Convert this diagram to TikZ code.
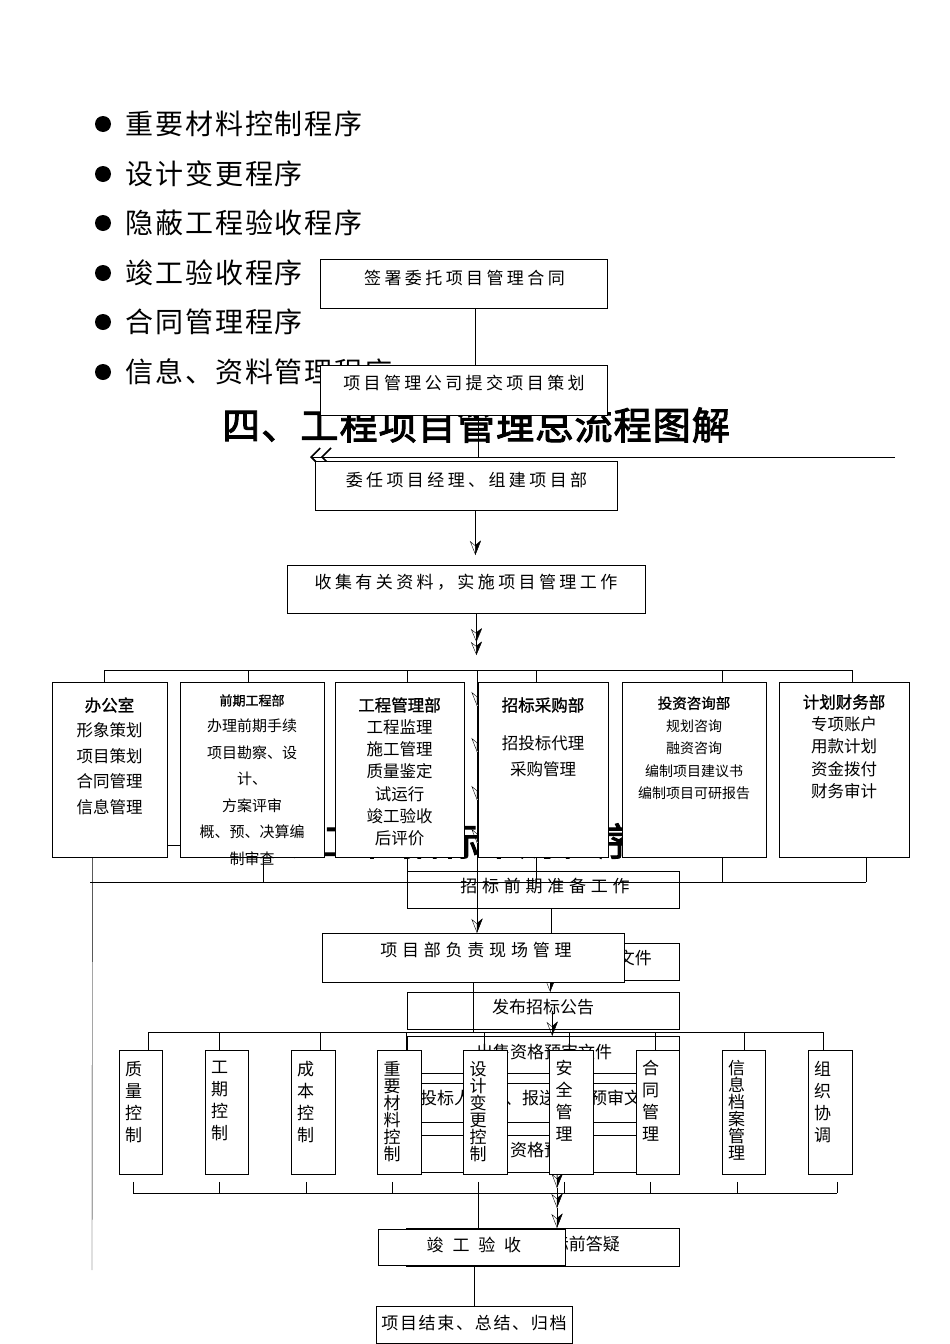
\documentclass[tikz,border=0pt]{standalone}
\usepackage{fontspec}
\usetikzlibrary{arrows.meta,positioning}
\newfontfamily\cjk{Noto Sans CJK SC}
\newfontfamily\cjkwide[LetterSpace=20]{Noto Sans CJK SC}
\newfontfamily\cjknarrow[LetterSpace=10]{Noto Sans CJK SC}
\newfontfamily\cjkspaced[LetterSpace=28]{Noto Sans CJK SC}
\newfontfamily\cjkwider[LetterSpace=52]{Noto Sans CJK SC}
\newfontfamily\cjklist[LetterSpace=7]{Noto Sans CJK SC}
\newfontfamily\cjkhead[FakeBold=1.2]{Noto Sans CJK SC}
\newfontfamily\cjktitle[FakeBold=2.5,LetterSpace=3]{Noto Sans CJK SC}
\pgfdeclarelayer{back}
\pgfdeclarelayer{mid}
\pgfsetlayers{back,mid,main}

\begin{document}
\begin{tikzpicture}[x=1pt, y=-1pt, line width=0.8pt,
  box/.style={draw, fill=white, anchor=north west, inner sep=0pt},
  txt/.style={inner sep=0pt, font={\cjk\fontsize{17}{20}\selectfont}},
  widetxt/.style={inner sep=0pt, font={\cjkwide\fontsize{17}{20}\selectfont}},
  dept/.style={anchor=north, align=center, inner sep=0pt},
  vtxt/.style={anchor=north, align=center, inner sep=0pt, font={\cjk\fontsize{17}{22}\selectfont}},
  bulletdot/.style={circle, fill=black, inner sep=0pt, minimum size=16pt},
  listitem/.style={anchor=west, inner sep=0pt, font={\cjklist\fontsize{28}{30}\selectfont}},
  bigtitle/.style={anchor=west, inner sep=0pt, font={\cjktitle\fontsize{38}{40}\selectfont}},
  flowtip/.style={-{Stealth[open,length=14pt,width=11pt]}, postaction={draw,-{Stealth[left,length=14pt,width=11pt]}}},
  flowtips/.style={-{Stealth[open,length=13pt,width=11pt]Stealth[open,length=13pt,width=11pt]}, postaction={draw,-{Stealth[left,length=13pt,width=11pt]Stealth[left,length=13pt,width=11pt]}}},
  backarrow/.style={-{Straight Barb[length=9pt,width=18pt,line width=1.6pt]Straight Barb[length=9pt,width=18pt,line width=1.6pt]}}]
\useasboundingbox (0,0) rectangle (950,1344);

\node[box, minimum width=287pt, minimum height=49pt] (sign) at (320,259) {};
\node[widetxt] (signt) at (464.5,278) {签署委托项目管理合同};
\node[box, minimum width=287pt, minimum height=50pt] (plan) at (320,365) {};
\node[widetxt] (plant) at (464,383) {项目管理公司提交项目策划};
\node[box, minimum width=302pt, minimum height=49pt] (appoint) at (315,461) {};
\node[widetxt] (appointt) at (466.5,480) {委任项目经理、组建项目部};
\node[box, minimum width=358pt, minimum height=48pt] (collect) at (287,565) {};
\node[widetxt] (collectt) at (466,582) {收集有关资料，实施项目管理工作};

\node[box, minimum width=115pt, minimum height=175pt] (off) at (52,682) {};
\node[box, minimum width=144pt, minimum height=175pt] (pre) at (180,682) {};
\node[box, minimum width=129pt, minimum height=175pt] (eng) at (335,682) {};
\node[box, minimum width=130pt, minimum height=175pt] (bid) at (478,682) {};
\node[box, minimum width=144pt, minimum height=175pt] (inv) at (622,682) {};
\node[box, minimum width=130pt, minimum height=175pt] (fin) at (779,682) {};
\node[dept, font={\cjk\fontsize{16.5}{25.5}\selectfont}] (offt) at (109.5,697) {{\cjkhead 办公室}\\形象策划\\项目策划\\合同管理\\信息管理};
\node[dept, font={\cjk\fontsize{15}{26.5}\selectfont}] (pret) at (252,694) {{\cjkhead\fontsize{13}{26.5}\selectfont 前期工程部}\\办理前期手续\\项目勘察、设\\计、\\方案评审\\概、预、决算编\\制审查};
\node[dept, font={\cjk\fontsize{16.5}{22.2}\selectfont}] (engt) at (399.5,697) {{\cjkhead 工程管理部}\\工程监理\\施工管理\\质量鉴定\\试运行\\竣工验收\\后评价};
\node[dept, font={\cjk\fontsize{16.5}{26}\selectfont}] (bidt) at (543,697) {{\cjkhead 招标采购部}\\[12pt]招投标代理\\采购管理};
\node[dept, font={\cjk\fontsize{14}{22.5}\selectfont}] (invt) at (694,696) {{\cjkhead\fontsize{14.5}{22.5}\selectfont 投资咨询部}\\规划咨询\\融资咨询\\编制项目建议书\\编制项目可研报告};
\node[dept, font={\cjk\fontsize{16.5}{22.3}\selectfont}] (fint) at (844,694) {{\cjkhead 计划财务部}\\专项账户\\用款计划\\资金拨付\\财务审计};

\node[box, minimum width=302pt, minimum height=49pt] (proj) at (322,933) {};
\node[inner sep=0pt, font={\cjkspaced\fontsize{17}{20}\selectfont}] (projt) at (476,950) {项目部负责现场管理};

\node[box, minimum width=43pt, minimum height=124pt] (quality) at (119,1050) {};
\node[box, minimum width=43pt, minimum height=124pt] (period) at (205,1050) {};
\node[box, minimum width=44pt, minimum height=124pt] (cost) at (291,1050) {};
\node[box, minimum width=44pt, minimum height=124pt] (material) at (377,1050) {};
\node[box, minimum width=44pt, minimum height=124pt] (design) at (463,1050) {};
\node[box, minimum width=44pt, minimum height=124pt] (safety) at (549,1050) {};
\node[box, minimum width=43pt, minimum height=124pt] (contract) at (636,1050) {};
\node[box, minimum width=43pt, minimum height=124pt] (archive) at (722,1050) {};
\node[box, minimum width=44pt, minimum height=124pt] (coord) at (808,1050) {};
\node[vtxt] (qualityt) at (133.5,1061) {质\\量\\控\\制};
\node[vtxt] (periodt) at (219.5,1061) {工\\期\\控\\制};
\node[vtxt] (costt) at (305.5,1061) {成\\本\\控\\制};
\node[vtxt, font={\cjk\fontsize{17}{17}\selectfont}] (materialt) at (392,1061) {重\\要\\材\\料\\控\\制};
\node[vtxt, font={\cjk\fontsize{17}{17}\selectfont}] (designt) at (478,1061) {设\\计\\变\\更\\控\\制};
\node[vtxt] (safetyt) at (564,1060) {安\\全\\管\\理};
\node[vtxt] (contractt) at (650.5,1060) {合\\同\\管\\理};
\node[vtxt, font={\cjk\fontsize{17}{17}\selectfont}] (archivet) at (736.5,1060) {信\\息\\档\\案\\管\\理};
\node[vtxt] (coordt) at (822.5,1061) {组\\织\\协\\调};

\node[box, minimum width=187pt, minimum height=36pt] (acc) at (378,1229) {};
\node[inner sep=0pt, font={\cjkwider\fontsize{17}{20}\selectfont}] (acct) at (474,1245) {竣工验收};
\node[box, minimum width=196pt, minimum height=37pt] (finish) at (376,1306) {};
\node[inner sep=0pt, font={\cjknarrow\fontsize{17}{20}\selectfont}] (finisht) at (474,1323) {项目结束、总结、归档};

\begin{pgfonlayer}{back}
\node[bulletdot] (dot1) at (103,124) {};
\node[listitem] (item1) at (125,124) {重要材料控制程序};
\node[bulletdot] (dot2) at (103,174) {};
\node[listitem] (item2) at (125,174) {设计变更程序};
\node[bulletdot] (dot3) at (103,223) {};
\node[listitem] (item3) at (125,223) {隐蔽工程验收程序};
\node[bulletdot] (dot4) at (103,273) {};
\node[listitem] (item4) at (125,273) {竣工验收程序};
\node[bulletdot] (dot5) at (103,322) {};
\node[listitem] (item5) at (125,322) {合同管理程序};
\node[bulletdot] (dot6) at (103,372) {};
\node[listitem] (item6) at (125,372) {信息、资料管理程序};

\node[bigtitle] (title) at (222,425) {四、工程项目管理总流程图解};
\node[bigtitle] (titlebid) at (245,841) {五、工程招标采购程序};

\node[box, minimum width=272pt, minimum height=37pt] (tb) at (407,871) {};
\node[inner sep=0pt, font={\cjkspaced\fontsize{17}{20}\selectfont}] (tbt) at (545,886) {招标前期准备工作};
\node[box, minimum width=272pt, minimum height=37pt] (fileb) at (407,943) {};
\node[txt, anchor=east] (filebt) at (652,958) {编制资格预审文件};
\node[box, minimum width=272pt, minimum height=37pt] (pub) at (407,992) {};
\node[txt] (pubt) at (543,1007) {发布招标公告};
\node[box, minimum width=272pt, minimum height=37pt] (sell) at (407,1036) {};
\node[txt] (sellt) at (544,1052) {出售资格预审文件};
\node[box, minimum width=272pt, minimum height=39pt] (apply) at (407,1083) {};
\node[txt, anchor=west] (applyt) at (420,1098) {投标人报名、报送资格预审文件};
\node[box, minimum width=272pt, minimum height=37pt] (qual) at (407,1135) {};
\node[txt, anchor=west] (qualt) at (510,1150) {资格预审};
\node[box, minimum width=273pt, minimum height=38pt] (ans) at (406,1228) {};
\node[txt, anchor=east] (anst) at (620,1244) {标前答疑};
\end{pgfonlayer}

\begin{pgfonlayer}{mid}
\draw ([xshift=11.5pt]sign.south) -- ([xshift=11.5pt]plan.north);
\coordinate (backfar) at (895,457);
\coordinate (backtip) at (310,457);
\draw[backarrow] (backfar) -- (backtip);
\draw ([xshift=14.5pt]plan.south) -- ([xshift=14.5pt]plan.south |- backfar);
\draw[flowtip, shorten >=10pt] ([xshift=9pt]appoint.south) -- ([xshift=9pt]collect.north);
\draw[flowtips] ([xshift=10pt]collect.south) -- ([xshift=10pt,yshift=27pt]collect.south |- off.north);

\draw ([xshift=-5.5pt,yshift=12pt]off.north) -- ([xshift=8pt,yshift=12pt]fin.north);
\draw ([xshift=-5.5pt]off.north) -- ++(0,-12);
\draw ([xshift=-4pt]pre.north) -- ++(0,-12);
\draw ([xshift=7.5pt]eng.north) -- ++(0,-12);
\draw ([xshift=-7pt]bid.north) -- ++(0,-12);
\draw ([xshift=28pt]inv.north) -- ++(0,-12);
\draw ([xshift=8pt]fin.north) -- ++(0,-12);

\coordinate (leftfoot) at (92,1270);
\draw ([xshift=-17.5pt]off.south) -- (leftfoot);
\draw ([xshift=-19.5pt,yshift=-24pt]off.south) -- ([xshift=22pt,yshift=-24pt]fin.south);
\draw ([xshift=11pt]pre.south) -- ++(0,24);
\draw ([xshift=7.5pt]eng.south) -- ++(0,24);
\draw ([xshift=-7pt]bid.south) -- ++(0,24);
\draw ([xshift=28pt]inv.south) -- ++(0,24);
\draw ([xshift=22pt]fin.south) -- ++(0,24);
\draw (off.east |- 0,845) -- (pre.west |- 0,845);

\coordinate (k0) at (477,670);
\coordinate (k1) at (477,706);
\coordinate (k2) at (477,752);
\coordinate (k3) at (477,800);
\coordinate (k4) at (477,843);
\draw[flowtip] (k0) -- (k1);
\draw[flowtip] (k1) -- (k2);
\draw[flowtip] (k2) -- (k3);
\draw[flowtip] (k3) -- (k4);
\draw[flowtip] (k4) -- (k4 |- proj.north);

\draw ([xshift=8pt]tb.south) -- ([xshift=8pt]fileb.north);
\draw[flowtip] ([xshift=7pt]fileb.south) -- ([xshift=7pt]pub.north);
\draw (proj.south) -- ([yshift=18pt]proj.south |- quality.north);
\draw[flowtip] ([xshift=9pt]pub.center) -- ([xshift=9pt]sell.north);
\draw[flowtip] ([xshift=14pt]sell.south) -- ([xshift=14pt]apply.north);
\draw[flowtip] ([xshift=14pt]apply.south) -- ([xshift=14pt]qual.north);
\coordinate (r1) at (557,1188);
\coordinate (r2) at (557,1208);
\draw[flowtip] ([xshift=14pt]qual.south) -- (r1);
\draw[flowtip] (r1) -- (r2);
\draw[flowtip] (r2) -- (r2 |- ans.north);

\draw ([xshift=7.5pt,yshift=18pt]quality.north) -- ([xshift=-7pt,yshift=18pt]coord.north);
\draw ([xshift=7.5pt]quality.north) -- ++(0,-18);
\draw ([xshift=-7.5pt]period.north) -- ++(0,-18);
\draw ([xshift=7pt]cost.north) -- ++(0,-18);
\draw ([xshift=7pt]material.north) -- ++(0,-18);
\draw ([xshift=-1pt]design.north) -- ++(0,-18);
\draw ([xshift=-2pt]safety.north) -- ++(0,-18);
\draw ([xshift=-2.5pt]contract.north) -- ++(0,-18);
\draw ([xshift=0.5pt]archive.north) -- ++(0,-18);
\draw ([xshift=-7pt]coord.north) -- ++(0,-18);

\draw ([xshift=-7.5pt,yshift=-18pt]quality.south) -- ([xshift=7pt,yshift=-18pt]coord.south);
\draw ([xshift=-7.5pt,yshift=-7pt]quality.south) -- ++(0,11);
\draw ([xshift=-7.5pt,yshift=-7pt]period.south) -- ++(0,11);
\draw ([xshift=-7pt,yshift=-7pt]cost.south) -- ++(0,11);
\draw ([xshift=-7pt,yshift=-7pt]material.south) -- ++(0,11);
\draw ([xshift=-7pt,yshift=-7pt]design.south) -- ++(0,11);
\draw ([xshift=-7pt,yshift=-7pt]safety.south) -- ++(0,11);
\draw ([xshift=-7.5pt,yshift=-7pt]contract.south) -- ++(0,11);
\draw ([xshift=-6.5pt,yshift=-7pt]archive.south) -- ++(0,11);
\draw ([xshift=7pt,yshift=-7pt]coord.south) -- ++(0,11);
\draw ([xshift=-7pt,yshift=-18pt]design.south) -- ([xshift=6.5pt]acc.north);
\draw (acc.south -| finish.north) -- (finish.north);
\end{pgfonlayer}
\end{tikzpicture}
\end{document}
